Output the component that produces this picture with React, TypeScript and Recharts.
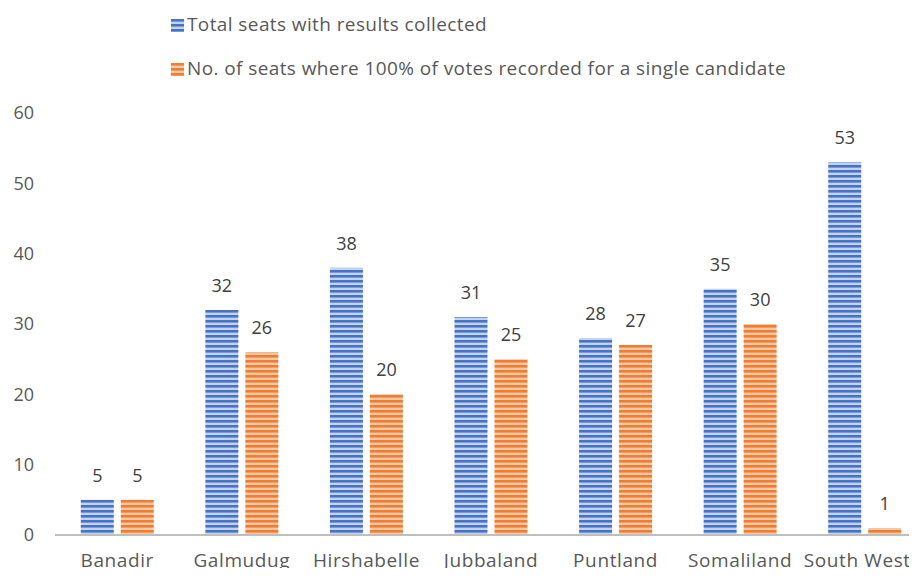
import React from "react";
import { BarChart, Bar, XAxis, YAxis, LabelList } from "recharts";

const regions = ["Banadir", "Galmudug", "Hirshabelle", "Jubbaland", "Puntland", "Somaliland", "South West"];
const totalSeats = [5, 32, 38, 31, 28, 35, 53];
const singleCandidateSeats = [5, 26, 20, 25, 27, 30, 1];
const yTicks = [0, 10, 20, 30, 40, 50, 60];

const seriesNames = [
  "Total seats with results collected",
  "No. of seats where 100% of votes recorded for a single candidate",
];

const data = regions.map((name, i) => ({
  name,
  total: totalSeats[i],
  single: singleCandidateSeats[i],
}));

const font = "'Open Sans', sans-serif";
const textColor = "#595959";

function Swatch({ id }: { id: string }) {
  return (
    <svg width={13} height={13} style={{ marginRight: 3, marginTop: 2 }}>
      <rect width={13} height={13} fill={`url(#${id})`} />
    </svg>
  );
}

// last label is pulled left so it stays inside the picture, like Excel does
function CategoryTick(props: any) {
  const { x, y, payload, index } = props;
  const last = index === regions.length - 1;
  return (
    <text
      x={last ? x + 46 : x}
      y={y}
      dy="0.71em"
      textAnchor={last ? "end" : "middle"}
      fill={textColor}
      fontSize={19}
      letterSpacing={0.6}
      fontFamily={font}
    >
      {payload.value}
    </text>
  );
}

export default function App() {
  return (
    <div style={{ margin: -8, width: 917, height: 576, overflow: "hidden", position: "relative", background: "#fff" }}>
      <BarChart
        width={927}
        height={576}
        data={data}
        margin={{ top: 113, right: 0, left: 0, bottom: 0 }}
        barCategoryGap="20.7%"
        barGap={7}
      >
        <defs>
          <pattern id="stripeBlue" width={6} height={5} patternUnits="userSpaceOnUse">
            <rect width={6} height={5} fill="#c3d2ee" />
            <rect width={6} height={2.6} fill="#4673c6" />
          </pattern>
          <pattern id="stripeOrange" width={6} height={5} patternUnits="userSpaceOnUse">
            <rect width={6} height={5} fill="#f8c7a4" />
            <rect width={6} height={2.6} fill="#ee7e33" />
          </pattern>
        </defs>
        <XAxis
          dataKey="name"
          height={41}
          tickSize={0}
          tickMargin={19}
          axisLine={{ stroke: "#bfbfbf", strokeWidth: 2 }}
          tick={<CategoryTick />}
          interval={0}
        />
        <YAxis
          width={55}
          domain={[0, 60]}
          ticks={yTicks}
          tickSize={0}
          tickMargin={21}
          axisLine={false}
          tick={{ fill: textColor, fontSize: 18, fontFamily: font }}
        />
        <Bar dataKey="total" name={seriesNames[0]} fill="url(#stripeBlue)" isAnimationActive={false}>
          <LabelList dataKey="total" position="top" offset={18} fill="#404040" fontSize={18} fontFamily={font} />
        </Bar>
        <Bar dataKey="single" name={seriesNames[1]} fill="url(#stripeOrange)" isAnimationActive={false}>
          <LabelList dataKey="single" position="top" offset={18} fill="#404040" fontSize={18} fontFamily={font} />
        </Bar>
      </BarChart>
      <div
        style={{
          position: "absolute",
          left: 171,
          top: 12,
          fontFamily: font,
          fontSize: 19,
          letterSpacing: 0.4,
          color: textColor,
          lineHeight: "24px",
        }}
      >
        <div style={{ display: "flex", alignItems: "center", height: 24, whiteSpace: "nowrap" }}>
          <Swatch id="stripeBlue" />
          {seriesNames[0]}
        </div>
        <div style={{ display: "flex", alignItems: "center", height: 24, marginTop: 20, whiteSpace: "nowrap" }}>
          <Swatch id="stripeOrange" />
          {seriesNames[1]}
        </div>
      </div>
    </div>
  );
}
